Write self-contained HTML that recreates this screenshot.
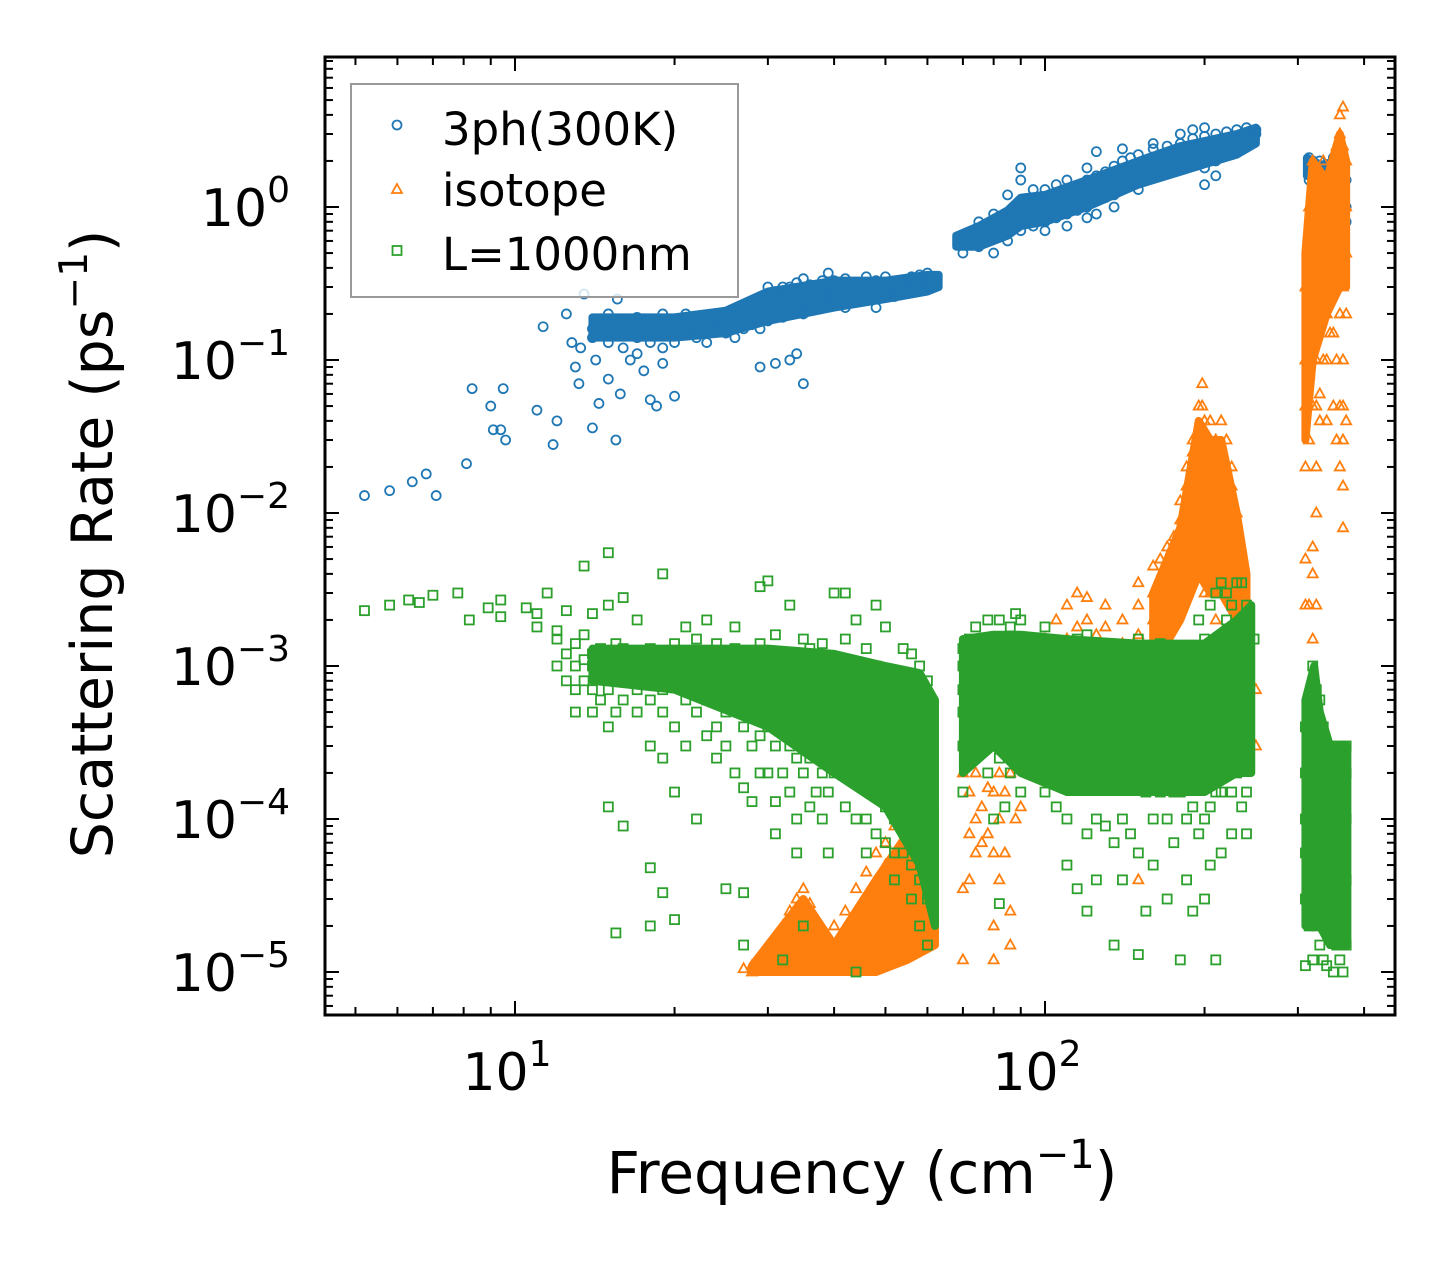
<!DOCTYPE html>
<html><head><meta charset="utf-8"><style>
html,body{margin:0;padding:0;background:#fff}
svg{display:block}
text{font-family:"DejaVu Sans","Liberation Sans",sans-serif;fill:#000}
</style></head><body>
<svg id="chart" width="1455" height="1265" viewBox="0 0 1455 1265" xmlns="http://www.w3.org/2000/svg">
<rect width="1455" height="1265" fill="#fff"/>
<g id="marks"></g>
<g id="ticks"></g>
<rect x="325" y="57" width="1070" height="958" fill="none" stroke="#000" stroke-width="3"/>
<text transform="translate(112,544) rotate(-90)" text-anchor="middle" font-size="57">Scattering Rate (ps<tspan font-size="39" dy="-25">−1</tspan><tspan dy="25">)</tspan></text>
<text x="862" y="1193" text-anchor="middle" font-size="58">Frequency (cm<tspan font-size="40" dy="-25">−1</tspan><tspan dy="25">)</tspan></text>
<g>
<rect x="351" y="84" width="387" height="213" fill="#fff" fill-opacity="0.8" stroke="#999" stroke-width="2"/>
<circle cx="397" cy="125" r="4.5" fill="none" stroke="#1f77b4" stroke-width="1.8"/>
<text x="442" y="145" font-size="45">3ph(300K)</text>
<path d="M397,184 L402,193 L392,193 Z" fill="none" stroke="#ff7f0e" stroke-width="1.8"/>
<text x="442" y="206" font-size="45">isotope</text>
<rect x="392.5" y="246" width="9" height="9" fill="none" stroke="#2ca02c" stroke-width="1.8"/>
<text x="442" y="270" font-size="45">L=1000nm</text>
</g>
</svg>
<script>
const xTickValues=[10,100];
const xTickExp=["1","2"];
const yTickValues=[1,0.1,0.01,0.001,0.0001,0.00001];
const yTickExp=["0","−1","−2","−3","−4","−5"];
// dense-core envelopes: [freq, low rate, high rate]
const blueCore1=[[14,0.14,0.19],[20,0.14,0.19],[25,0.15,0.21],[30,0.18,0.28],[40,0.22,0.33],[50,0.25,0.33],[60,0.28,0.36],[63,0.3,0.36]];
const blueCore2=[[68,0.55,0.65],[75,0.55,0.75],[85,0.65,0.95],[90,0.75,1.15],[100,0.8,1.2],[120,1.0,1.5],[150,1.4,2.0],[180,1.7,2.5],[200,1.9,2.7],[230,2.2,3.0],[250,2.6,3.3]];
const blueCore3=[[312,1.6,2.1],[330,1.5,1.9],[355,1.4,1.9],[368,1.3,1.8]];
const orangeCore1=[[28,1e-5,1.1e-5],[35,1e-5,3e-5],[40,1e-5,1.5e-5],[48,1e-5,4e-5],[55,1.2e-5,8e-5],[62,1.5e-5,1.2e-4]];
const orangeCore2=[[160,1e-3,3e-3],[180,2e-3,8e-3],[195,4e-3,4e-2],[205,3e-3,3e-2],[215,3e-3,3e-2],[230,2e-3,1e-2],[240,2e-3,4e-3]];
const orangeCore3=[[310,3e-2,0.5],[320,0.1,2],[340,0.2,1.5],[360,0.3,3],[370,0.3,2]];
const greenCore1=[[14,8e-4,1.3e-3],[20,7e-4,1.3e-3],[30,4e-4,1.3e-3],[40,2e-4,1.2e-3],[50,1.2e-4,1e-3],[58,5e-5,9e-4],[62,2e-5,6e-4]];
const greenCore2=[[70,2e-4,1.5e-3],[80,3e-4,1.6e-3],[90,2e-4,1.6e-3],[110,1.5e-4,1.5e-3],[150,1.5e-4,1.4e-3],[200,1.5e-4,1.4e-3],[230,2e-4,2e-3],[245,2e-4,2.5e-3]];
const greenCore3=[[310,2e-5,6e-4],[322,2e-5,1e-3],[330,2e-5,5e-4],[345,1.5e-5,3e-4],[372,1.5e-5,3e-4]];
const blueSparse=[[5.2,0.013],[5.8,0.014],[6.4,0.016],[6.8,0.018],[7.1,0.013],[8.1,0.021],[8.3,0.065],[9,0.05],[9.1,0.035],[9.5,0.065],[9.6,0.03],[9.4,0.035],[11,0.047],[11.3,0.165],[11.8,0.028],[12,0.04],[12.5,0.2],[12.8,0.13],[13,0.09],[13.2,0.07],[14,0.036],[14.4,0.052],[15,0.075],[15.5,0.03],[15.8,0.06],[17.5,0.085],[18,0.055],[18.5,0.05],[20,0.058],[13.5,0.27],[15.6,0.25],[29,0.09],[31,0.095],[33,0.1],[35,0.07],[34,0.11],[13.3,0.12],[14.2,0.1],[16.5,0.1],[17,0.11],[19,0.095]];
const blueBand=[[14,[0.16,0.14]],[15,[0.17,0.13,0.2]],[16,[0.15,0.18,0.12]],[17,[0.16,0.19,0.14]],[18,[0.17,0.13,0.15]],[19,[0.16,0.2,0.12]],[20,[0.15,0.18,0.13]],[21,[0.17,0.15,0.2]],[22,[0.16,0.14,0.19]],[23,[0.18,0.15,0.13]],[24,[0.17,0.2,0.16]],[25,[0.19,0.15,0.17]],[26,[0.18,0.14,0.21]],[27,[0.2,0.16,0.23]],[28,[0.19,0.17,0.22]],[29,[0.2,0.25,0.16]],[30,[0.22,0.27,0.18,0.3]],[31,[0.24,0.2,0.28]],[32,[0.23,0.27,0.19,0.3]],[33,[0.25,0.21,0.3]],[34,[0.26,0.22,0.32]],[35,[0.24,0.29,0.2,0.34]],[36,[0.27,0.23,0.31]],[37,[0.26,0.3,0.22]],[38,[0.28,0.24,0.33]],[39,[0.27,0.3,0.23,0.37]],[40,[0.28,0.24,0.33]],[42,[0.29,0.25,0.34,0.22]],[44,[0.28,0.32,0.24]],[46,[0.3,0.26,0.35]],[48,[0.29,0.25,0.33,0.22]],[50,[0.3,0.27,0.35]],[52,[0.31,0.26,0.28]],[54,[0.3,0.33,0.27]],[56,[0.32,0.28,0.35]],[58,[0.33,0.3,0.36]],[60,[0.34,0.3,0.37]],
[70,[0.6,0.5,0.65]],[75,[0.55,0.7,0.6,0.8]],[80,[0.65,0.5,0.75,0.9]],[85,[0.7,0.6,0.85,1.2]],[90,[1.0,1.5,0.8,1.8,0.7]],[95,[0.9,1.1,0.75,1.3]],[100,[0.95,1.1,0.8,1.3,0.7]],[105,[1.0,1.2,0.85,1.4]],[110,[1.05,1.3,0.9,1.5,0.75]],[115,[1.1,1.35,0.95]],[120,[1.2,1.0,1.5,1.8,0.85]],[125,[1.3,1.1,1.6,2.3,0.9]],[130,[1.4,1.15,1.7]],[135,[1.5,1.2,1.85,1.0]],[140,[1.6,1.35,2.0,2.4]],[145,[1.7,1.4,2.1]],[150,[1.8,1.5,2.2,1.3]],[160,[1.9,1.6,2.4,2.6]],[170,[2.0,1.7,2.5]],[180,[2.1,1.8,2.6,3.0]],[190,[2.2,1.9,2.8,3.2]],[200,[2.3,1.8,2.9,1.4,3.3]],[210,[2.4,2.0,3.0,1.6]],[220,[2.6,2.2,3.1]],[230,[2.7,2.3,3.2]],[240,[2.9,2.6,3.3]],[250,[3.2,3.0]],
[315,[2.1,1.8,1.5]],[320,[1.6,2.0,1.3]],[330,[1.7,1.4,2.0]],[340,[1.9,1.5,1.2]],[350,[1.6,2.1,1.3]],[360,[1.8,1.4,1.1]],[370,[1.5,1.0,0.8]]];
const orangeBand=[[27,[1.05e-5]],[28,[1.1e-5,1.0e-5]],[29,[1.2e-5,1.05e-5]],[30,[1.3e-5,1.1e-5]],[31,[1.6e-5,1.2e-5,1.05e-5]],[32,[2e-5,1.4e-5,1.1e-5]],[33,[2.5e-5,1.7e-5,1.2e-5]],[34,[3e-5,2e-5,1.4e-5,1.1e-5]],[35,[3.5e-5,2.4e-5,1.6e-5,1.2e-5]],[36,[2.8e-5,1.8e-5,1.3e-5]],[37,[2.2e-5,1.5e-5,1.1e-5]],[38,[1.8e-5,1.3e-5,1.05e-5]],[39,[1.6e-5,1.2e-5]],[40,[1.5e-5,1.1e-5,2e-5]],[42,[1.8e-5,1.3e-5,2.5e-5,1.05e-5]],[44,[2.5e-5,1.6e-5,1.2e-5,3.5e-5]],[46,[3e-5,2e-5,1.4e-5,4.5e-5,1.1e-5]],[48,[4e-5,2.5e-5,1.6e-5,6e-5,1.2e-5]],[50,[5e-5,3e-5,2e-5,7e-5,1.3e-5]],[52,[6e-5,3.5e-5,2.2e-5,9e-5,1.4e-5]],[54,[7e-5,4e-5,2.5e-5,1.1e-4,1.5e-5]],[56,[8e-5,5e-5,3e-5,1.3e-4,1.8e-5]],[58,[1e-4,6e-5,3.5e-5,1.5e-4,2e-5]],[60,[9e-5,5e-5,3e-5,1.5e-5]],
[70,[1.2e-5,3.5e-5,2e-4]],[72,[1.5e-4,8e-5,4e-5,2.5e-4]],[74,[1e-4,2e-4,6e-5]],[76,[1.2e-4,3e-4,7e-5]],[78,[1.6e-4,8e-5,3e-4]],[80,[6e-5,2e-5,1.2e-5,1.5e-4]],[82,[2e-4,1e-4,4e-5]],[84,[3e-4,1.5e-4,6e-5]],[86,[4e-4,2e-4,1.5e-5,2.5e-5]],[88,[5e-4,3e-4,1e-4]],[90,[6e-4,3e-4,1.2e-4]],[95,[8e-4,4e-4,1.2e-3]],[100,[1e-3,5e-4,1.5e-3]],[105,[1.2e-3,7e-4,2e-3]],[110,[1.5e-3,8e-4,2.5e-3]],[115,[1.8e-3,1e-3,3e-3]],[120,[2e-3,1.2e-3,2.8e-3]],[125,[1.6e-3,1e-3]],[130,[1.8e-3,1.2e-3,2.5e-3]],[140,[2e-3,1.4e-3]],[150,[2.5e-3,1.6e-3,3.5e-3,4e-5]],[160,[3e-3,2e-3,4.5e-3]],[165,[3.5e-3,5e-3,2.5e-3]],[170,[4e-3,6e-3,3e-3,2.5e-3]],[175,[5e-3,7e-3,4e-3,3e-3]],[180,[6e-3,9e-3,1.2e-2,4e-3,3e-3]],[185,[1e-2,1.5e-2,2e-2,7e-3,5e-3]],[190,[1.5e-2,2.5e-2,3e-2,1e-2,7e-3,4.5e-3]],[195,[2e-2,3.5e-2,5e-2,1.4e-2,9e-3,6e-3]],[198,[3e-2,5e-2,7e-2,2e-2,1.2e-2]],[200,[4e-2,2.5e-2,1.5e-2,1e-2,6e-3,3e-3]],[205,[3e-2,4e-2,2e-2,1.2e-2,7e-3,3e-3]],[210,[2e-2,3e-2,1.5e-2,8e-3,4e-3,2e-3,1.5e-3]],[215,[2.5e-2,4e-2,1.5e-2,1e-2,5e-3]],[220,[3e-2,2e-2,1.2e-2,6e-3,3e-3]],[225,[2e-2,1.5e-2,8e-3,4e-3]],[230,[1e-2,6e-3,3e-3,2e-3]],[235,[5e-3,3e-3]],[250,[7e-4,3e-4]],
[310,[2.5e-3,5e-3,2e-2,5e-2,0.1,0.3]],[315,[0.03,0.08,0.15,0.3,0.6,1.0,2.5e-3]],[320,[0.05,0.1,0.2,0.4,1.0,2.0,1.5e-3,6e-3,4e-3]],[325,[0.02,0.05,0.1,0.3,0.6,1.5,0.01,2.5e-3]],[330,[0.06,0.2,0.4,0.8,1.5,0.04]],[335,[0.1,0.3,0.5,1,2]],[340,[0.2,0.5,0.9,1.5,0.1,0.04]],[345,[0.3,0.6,1.0,0.15]],[350,[0.15,0.3,0.6,1.2,2,0.05]],[355,[0.3,0.7,1.3,2.5,0.1,0.03]],[360,[0.5,1,2,3,4,0.2,0.05,0.02]],[365,[0.3,0.8,1.5,2.5,4.5,0.1,0.05,0.03,0.015,8e-3]],[370,[0.2,0.5,1,2,0.04]]];
const greenBand=[[5.2,[2.3e-3]],[5.8,[2.5e-3]],[6.3,[2.7e-3]],[6.6,[2.6e-3]],[7.0,[2.9e-3]],[7.8,[3e-3]],[8.2,[2e-3]],[8.9,[2.4e-3]],[9.4,[2.7e-3,2.1e-3]],[10.5,[2.4e-3]],[11,[1.8e-3,2.2e-3]],[11.5,[3e-3]],[12,[1.5e-3,1e-3,1.7e-3]],[12.5,[1.2e-3,8e-4,2.3e-3]],[13,[1e-3,7e-4,1.4e-3,5e-4]],[13.5,[1.1e-3,8e-4,1.6e-3,4.5e-3]],[14,[1e-3,5e-4,1.2e-3,7e-4,2.2e-3]],[14.5,[9e-4,6e-4,1.3e-3]],[15,[1e-3,7e-4,4e-4,1.2e-4,5.5e-3,2.5e-3]],[15.5,[1.1e-3,8e-4,5e-4,1.8e-5,1.4e-3]],[16,[1e-3,6e-4,1.3e-3,9e-5,2.8e-3]],[17,[9e-4,1.2e-3,5e-4,7e-4,2e-3]],[18,[1e-3,8e-4,6e-4,3e-4,1.3e-3,4.8e-5,2e-5]],[19,[1.1e-3,7e-4,5e-4,2.5e-4,3.3e-5,4e-3]],[20,[1e-3,8e-4,1.4e-3,4e-4,1.5e-4,2.2e-5]],[21,[9e-4,1.2e-3,6e-4,3e-4,1.8e-3]],[22,[1e-3,7e-4,5e-4,1.5e-3,1e-4]],[23,[9e-4,1.2e-3,6e-4,3.5e-4,2e-3]],[24,[1e-3,7e-4,4e-4,1.4e-3,2.5e-4]],[25,[8e-4,1.1e-3,5e-4,3e-4,3.5e-5]],[26,[9e-4,1.3e-3,6e-4,2e-4,1.8e-3]],[27,[1e-3,7e-4,4e-4,1.6e-4,3.3e-5,1.5e-5]],[28,[8e-4,1.2e-3,5e-4,3e-4,1.3e-4]],[29,[9e-4,6e-4,1.4e-3,3.5e-4,2e-4,3.3e-3]],[30,[1e-3,7e-4,4e-4,2e-4,1.2e-3,3.6e-3]],[31,[8e-4,5e-4,3e-4,1.3e-4,1.6e-3,8e-5]],[32,[9e-4,6e-4,1.2e-3,4e-4,2e-4,1.2e-5]],[33,[7e-4,5e-4,1e-3,3e-4,1.5e-4,2.5e-3]],[34,[8e-4,5e-4,1.2e-3,2.5e-4,1e-4,6e-5]],[35,[7e-4,4e-4,1e-3,2e-4,1.5e-3,2e-5]],[36,[6e-4,9e-4,4e-4,2.5e-4,1.2e-4,1.3e-3]],[37,[7e-4,5e-4,1e-3,3e-4,1.5e-4]],[38,[6e-4,4e-4,8e-4,2e-4,1e-4,1.4e-3]],[39,[7e-4,4.5e-4,1e-3,3e-4,1.5e-4,6e-5]],[40,[6e-4,4e-4,8e-4,2e-4,3e-3,1.1e-3]],[42,[6e-4,4e-4,8e-4,2.5e-4,1.2e-4,3e-3,1.5e-3]],[44,[5e-4,3.5e-4,7e-4,2e-4,1e-4,2e-3,1e-5]],[46,[5e-4,3e-4,7e-4,2e-4,1e-4,6e-5,1.3e-3]],[48,[4e-4,6e-4,2.5e-4,1.5e-4,8e-5,1e-3,2.5e-3]],[50,[4e-4,6e-4,2.5e-4,1.2e-4,7e-5,9e-4,1.8e-3]],[52,[3.5e-4,5e-4,2e-4,1e-4,6e-5,8e-4,4e-5]],[54,[3e-4,4.5e-4,2e-4,1e-4,6e-5,7e-4,1.3e-3]],[56,[2.5e-4,4e-4,1.5e-4,8e-5,5e-5,6e-4,1.2e-3,3e-5]],[58,[2e-4,3.5e-4,1.2e-4,7e-5,5e-4,1e-3,4e-5,2e-5]],[60,[1.5e-4,3e-4,1e-4,6e-5,4e-4,8e-4,3e-5,1.5e-5]],
[70,[7e-4,1e-3,5e-4,3e-4,1.3e-3,1.5e-4]],[72,[8e-4,1.2e-3,5e-4,1.5e-3,2.5e-4]],[74,[9e-4,6e-4,1.3e-3,4e-4,1.8e-3]],[76,[8e-4,1.1e-3,5e-4,3e-4,1.5e-3]],[78,[9e-4,6e-4,1.3e-3,2e-4,2e-3]],[80,[7e-4,1e-3,4e-4,1.5e-3,1e-4]],[82,[8e-4,1.2e-3,5e-4,2.5e-4,2e-3,2.8e-5]],[84,[9e-4,6e-4,1.3e-3,3e-4,1.2e-4]],[86,[8e-4,1.1e-3,5e-4,2e-4,1.8e-3]],[88,[1e-3,7e-4,1.4e-3,4e-4,2.2e-3]],[90,[9e-4,6e-4,1.3e-3,3e-4,2e-3,1.5e-4]],[95,[8e-4,1.1e-3,5e-4,2.5e-4,1.5e-3]],[100,[9e-4,6e-4,1.2e-3,3e-4,1.5e-4,1.8e-3]],[105,[8e-4,1e-3,5e-4,2.5e-4,1.2e-4]],[110,[7e-4,1e-3,4e-4,2e-4,1e-4,1.4e-3,5e-5]],[115,[8e-4,1.1e-3,5e-4,2.5e-4,1.5e-3,3.5e-5]],[120,[7e-4,1e-3,4e-4,2e-4,8e-5,1.6e-3,2.5e-5]],[125,[8e-4,1.1e-3,5e-4,3e-4,1e-4,4e-5]],[130,[7e-4,1e-3,4e-4,2e-4,9e-5,1.4e-3]],[135,[6e-4,9e-4,4e-4,2e-4,7e-5,1.3e-3,1.5e-5]],[140,[7e-4,1e-3,4e-4,2.5e-4,1e-4,4e-5]],[145,[6e-4,9e-4,3.5e-4,2e-4,8e-5,1.2e-3]],[150,[7e-4,1e-3,4e-4,2e-4,6e-5,1.5e-3,1.3e-5]],[155,[6e-4,9e-4,3e-4,1.5e-4,1e-3,2.5e-5]],[160,[7e-4,4e-4,2e-4,1e-4,1.2e-3,5e-5]],[165,[6e-4,9e-4,3.5e-4,1.5e-4,1.4e-3]],[170,[7e-4,4e-4,2e-4,1e-4,1e-3,3e-5]],[175,[6e-4,9e-4,3.5e-4,1.5e-4,7e-5]],[180,[5e-4,8e-4,3e-4,1.5e-4,1.2e-3,1.2e-5]],[185,[6e-4,4e-4,2e-4,1e-4,1e-3,4e-5]],[190,[7e-4,4.5e-4,2.5e-4,1.2e-4,1.3e-3,2.5e-5]],[195,[6e-4,9e-4,3.5e-4,1.8e-4,8e-5,2e-3]],[200,[7e-4,4e-4,2e-4,1e-4,1.5e-3,3e-5]],[205,[8e-4,5e-4,2.5e-4,1.2e-4,2.5e-3,5e-5]],[210,[9e-4,5e-4,3e-4,1.5e-4,3e-3,1.2e-5]],[215,[1e-3,6e-4,3e-4,1.5e-4,3.5e-3,6e-5]],[220,[1.2e-3,7e-4,4e-4,2e-4,3e-3,2e-3]],[225,[1e-3,6e-4,3e-4,1.5e-4,2.5e-3,8e-5]],[230,[1.3e-3,8e-4,4e-4,2e-4,3.5e-3]],[235,[1.5e-3,9e-4,5e-4,2.5e-4,3.5e-3,1.2e-4]],[240,[1.2e-3,7e-4,3e-4,1.5e-4,2.5e-3,8e-5]],[248,[1.5e-3]],
[310,[2e-4,1.1e-5,3e-5,1e-4,4e-4,6e-5]],[315,[3e-4,1.5e-4,5e-5,2e-5,6e-4]],[320,[5e-4,1e-3,2e-4,8e-5,3e-5,1.2e-5]],[325,[4e-4,7e-4,1.5e-4,5e-5,2e-5]],[330,[3e-4,6e-4,1e-4,4e-5,1.5e-5]],[335,[2e-4,4e-4,8e-5,3e-5,1.2e-5]],[340,[1.5e-4,3e-4,6e-5,2.5e-5,1.1e-5]],[345,[2e-4,3e-4,7e-5,3e-5]],[350,[1.5e-4,2.5e-4,5e-5,2e-5,1e-5]],[355,[1e-4,2e-4,4e-5,1.5e-5]],[360,[2e-4,3e-4,6e-5,2e-5,1.2e-5]],[365,[1.5e-4,2.5e-4,5e-5,1.5e-5,1e-5]],[370,[2e-4,3e-4,1e-4,4e-5,1.5e-5]]];

const NS="http://www.w3.org/2000/svg";
function X(f){return 515+530*(Math.log10(f)-1);}
function Y(r){return 207-153*Math.log10(r);}
const marks=document.getElementById('marks');
const ticks=document.getElementById('ticks');
function mk(tag,attrs,parent){const e=document.createElementNS(NS,tag);for(const k in attrs)e.setAttribute(k,attrs[k]);parent.appendChild(e);return e;}
function core(arr,color,name){
  const up=arr.map(p=>`${X(p[0])},${Y(p[2])}`);
  const lo=arr.slice().reverse().map(p=>`${X(p[0])},${Y(p[1])}`);
  const e=mk('polygon',{points:up.concat(lo).join(' '),fill:color,stroke:color,'stroke-width':8,'stroke-linejoin':'round'},marks);
  
  
}
function circ(f,r){const e=mk('circle',{cx:X(f),cy:Y(r),r:4.5,fill:'none',stroke:'#1f77b4','stroke-width':1.8},marks);

}
function tri(f,r){const x=X(f),y=Y(r);const e=mk('path',{d:`M${x},${y-5.5}L${x+5},${y+3.5}L${x-5},${y+3.5}Z`,fill:'none',stroke:'#ff7f0e','stroke-width':1.8},marks);

}
function sq(f,r){const x=X(f),y=Y(r);const e=mk('rect',{x:x-4.5,y:y-4.5,width:9,height:9,fill:'none',stroke:'#2ca02c','stroke-width':1.8},marks);

}
function inRange(f,r){return f>0&&r>0&&X(f)>325&&X(f)<1395&&Y(r)>57&&Y(r)<1015;}
[blueCore1,blueCore2,blueCore3].forEach(a=>core(a,'#1f77b4','3ph-dense-core'));
blueSparse.forEach(p=>{if(inRange(p[0],p[1]))circ(p[0],p[1]);});
blueBand.forEach(g=>g[1].forEach(r=>{if(inRange(g[0],r))circ(g[0],r);}));
[orangeCore1,orangeCore2,orangeCore3].forEach(a=>core(a,'#ff7f0e','isotope-dense-core'));
orangeBand.forEach(g=>g[1].forEach(r=>{if(inRange(g[0],r))tri(g[0],r);}));
[greenCore1,greenCore2,greenCore3].forEach(a=>core(a,'#2ca02c','boundary-dense-core'));
greenBand.forEach(g=>g[1].forEach(r=>{if(inRange(g[0],r))sq(g[0],r);}));

function line(x1,y1,x2,y2){const e=mk('line',{x1,y1,x2,y2,stroke:'#000','stroke-width':2},ticks);

}
for(let d=0;d<=2;d++){for(let m=1;m<=9;m++){const f=m*Math.pow(10,d);const x=X(f);if(x<=326||x>=1394)continue;const L=(m===1)?14:8;line(x,1015,x,1015-L);line(x,57,x,57+L);}}
for(let d=-6;d<=0;d++){for(let m=1;m<=9;m++){const r=m*Math.pow(10,d);const y=Y(r);if(y<=58||y>=1014)continue;const L=(m===1)?14:8;line(325,y,325+L,y);line(1395,y,1395-L,y);}}
xTickValues.forEach((v,i)=>{const t=mk('text',{x:X(v)-8,y:1090,'text-anchor':'middle','font-size':52},ticks);


t.textContent='10';const s=mk('tspan',{'font-size':36,dy:-24},t);s.textContent=xTickExp[i];});
yTickValues.forEach((v,i)=>{const t=mk('text',{x:290,y:Y(v)+19,'text-anchor':'end','font-size':52},ticks);


t.textContent='10';const s=mk('tspan',{'font-size':36,dy:-24},t);s.textContent=yTickExp[i];});
</script>
</body></html>
